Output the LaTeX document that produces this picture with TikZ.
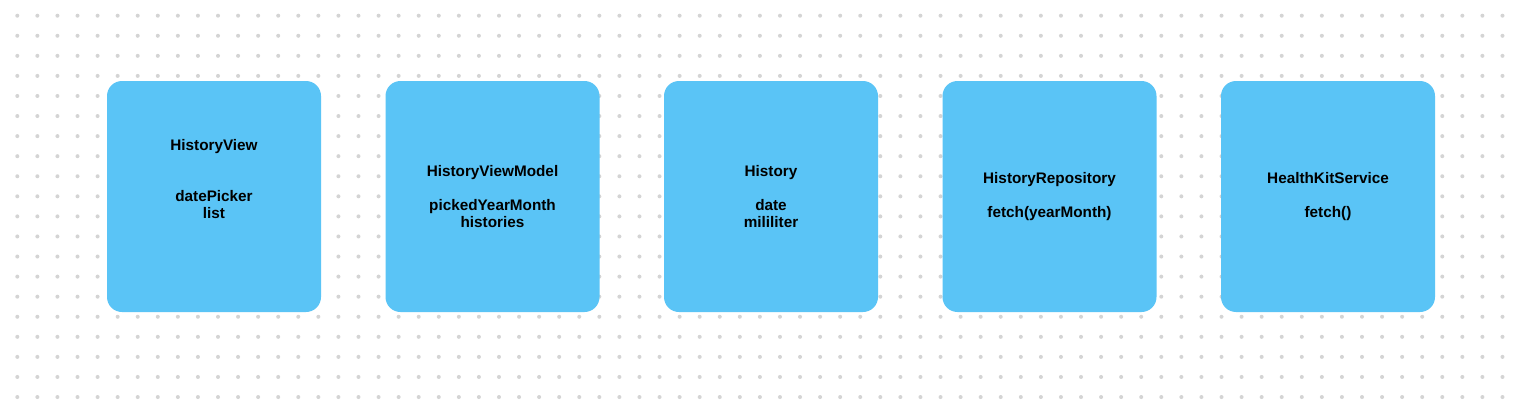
\documentclass[tikz,border=0pt]{standalone}
\usepackage{fontspec}
\setmainfont{Liberation Sans}
\definecolor{boxblue}{RGB}{90,196,246}
\definecolor{dotgray}{RGB}{212,212,212}
\begin{document}
\begin{tikzpicture}[x=1pt,y=-1pt,
  card/.style={fill=boxblue, draw=none, rounded corners=15pt, minimum width=214pt, minimum height=231pt, inner sep=0pt},
  cardtext/.style={align=center, font=\bfseries\fontsize{15.3}{17}\selectfont, inner sep=0pt, text=black}]
\useasboundingbox[fill=white] (0,0) rectangle (1523,404);
\foreach \i in {0,...,74}{
  \foreach \j in {0,...,19}{
    \fill[dotgray] ({17.3+20.07*\i},{15.7+20.07*\j}) circle (2pt);
  }
}
\node[card] (hv) at (214,196.5) {};
\node[card] (hvm) at (492.5,196.5) {};
\node[card] (h) at (771,196.5) {};
\node[card] (hr) at (1049.5,196.5) {};
\node[card] (hks) at (1328,196.5) {};
\node[cardtext] (hvt) at ([yshift=17pt]hv.center) {HistoryView\\[17pt] \\datePicker\\list};
\node[cardtext] (hvmt) at (hvm.center) {HistoryViewModel\\[17pt]pickedYearMonth\\histories};
\node[cardtext] (ht) at (h.center) {History\\[17pt]date\\mililiter};
\node[cardtext] (hrt) at (hr.center) {HistoryRepository\\[17pt]fetch(yearMonth)};
\node[cardtext] (hkst) at (hks.center) {HealthKitService\\[17pt]fetch()};
\end{tikzpicture}
\end{document}
